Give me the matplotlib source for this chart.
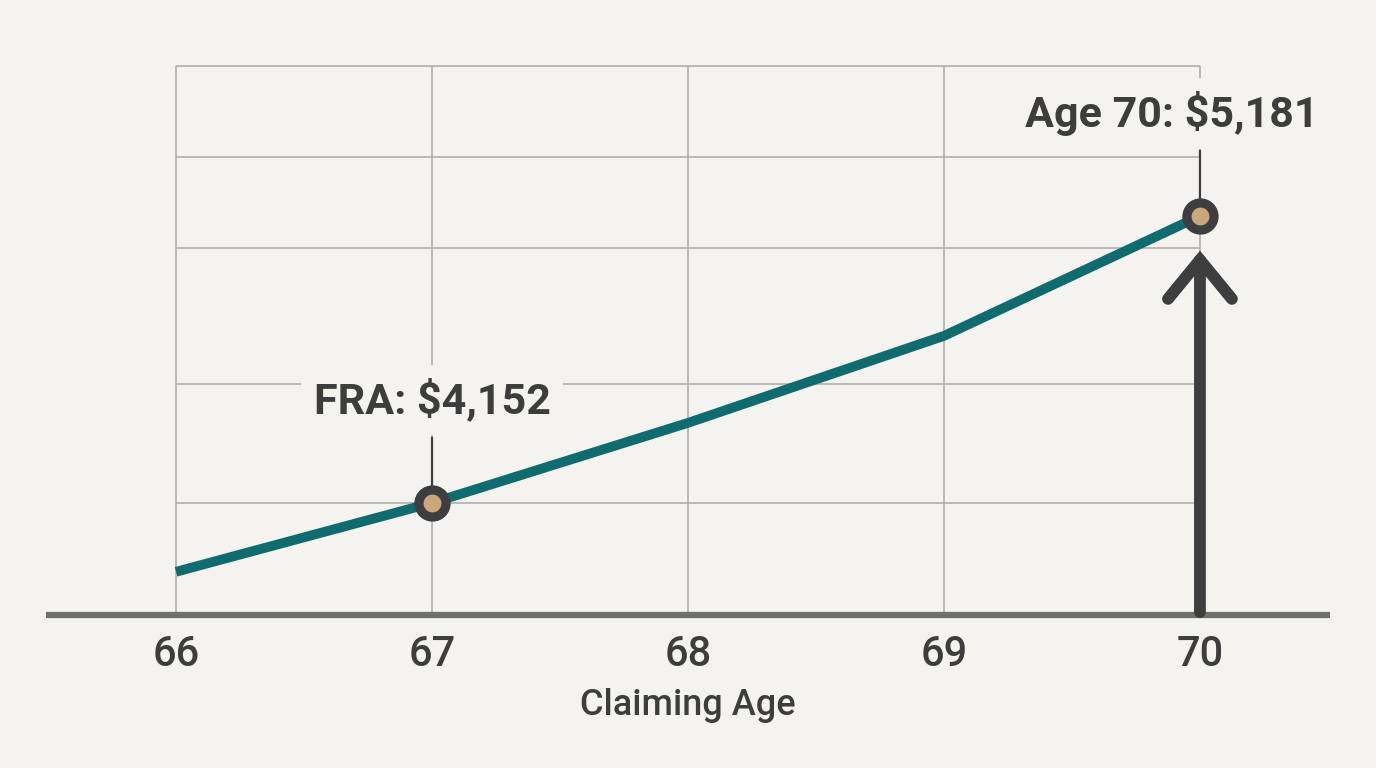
import matplotlib.pyplot as plt

# --------------------------------------------------
# Data
# --------------------------------------------------

ages = [66, 67, 68, 69, 70]
monthly_benefit = [3905, 4152, 4439, 4751, 5181]
age_labels = ["66", "67", "68", "69", "70"]

# highlighted points: (age, text)
callouts = [
    (67, "FRA: $4,152"),
    (70, "Age 70: $5,181"),
]

grid_levels = [4152, 4579, 5066, 5392, 5719]
floor_value = 3750
top_value = 5848

BG = "#f4f3ef"
TEAL = "#0f6b6e"
DARK = "#3c3e40"
TAN = "#c9a97c"
GRID = "#b0b0aa"
TEXT = "#3d3d3d"


def main():

    plt.rcParams["font.family"] = ["Roboto", "DejaVu Sans"]

    fig = plt.figure(figsize=(13.76, 7.68), dpi=100, facecolor=BG)
    ax = fig.add_axes([46 / 1376, 1 - 615 / 768, 1284 / 1376, 585 / 768])
    ax.set_facecolor(BG)

    ax.set_xlim(65.492, 70.508)
    ax.set_ylim(floor_value, top_value)

    # grid
    ax.hlines(grid_levels, ages[0], ages[-1], color=GRID, lw=1.2, zorder=1)
    ax.vlines(ages, floor_value, grid_levels[-1], color=GRID, lw=1.2, zorder=1)

    # baseline
    ax.axhline(floor_value, color="#6f6f6c", lw=4.5, zorder=3, clip_on=False,
               solid_capstyle="butt")

    # benefit line
    ax.plot(ages, monthly_benefit, color=TEAL, lw=7, solid_capstyle="butt",
            solid_joinstyle="round", zorder=4)

    # up arrow at age 70
    ax.annotate("", xy=(ages[-1], monthly_benefit[-1]), xytext=(ages[-1], floor_value),
                arrowprops=dict(arrowstyle="->,head_length=2.8,head_width=2.3",
                                mutation_scale=10, lw=8.5, color=DARK,
                                shrinkA=2, shrinkB=25, joinstyle="miter"),
                zorder=3)

    for age, text in callouts:
        val = monthly_benefit[ages.index(age)]

        # connector
        ax.annotate("", xy=(age, val), xytext=(0, 47), textcoords="offset points",
                    arrowprops=dict(arrowstyle="-", lw=1.6, color=DARK,
                                    shrinkA=0, shrinkB=9),
                    zorder=5)

        dx = -20 if age == ages[-1] else 0
        ax.annotate(text, xy=(age, val), xytext=(dx, 74), textcoords="offset points",
                    ha="center", va="center", fontsize=31, fontweight="bold",
                    color=TEXT, zorder=6,
                    bbox=dict(boxstyle="square,pad=0.3", fc=BG, ec="none"))

        ax.plot([age], [val], marker="o", ms=19.5, mew=6.6, mec=DARK, mfc=TAN,
                zorder=7)

    ax.set_xticks(ages)
    ax.set_xticklabels(age_labels, fontsize=30, fontweight="medium", color=TEXT)
    ax.tick_params(axis="x", length=0, pad=14)
    ax.set_yticks([])

    ax.set_xlabel("Claiming Age", fontsize=26, fontweight="medium", color=TEXT,
                  labelpad=9)

    for s in ax.spines.values():
        s.set_visible(False)

    fig.savefig("out.png", dpi=100, facecolor=BG)


if __name__ == "__main__":
    main()
